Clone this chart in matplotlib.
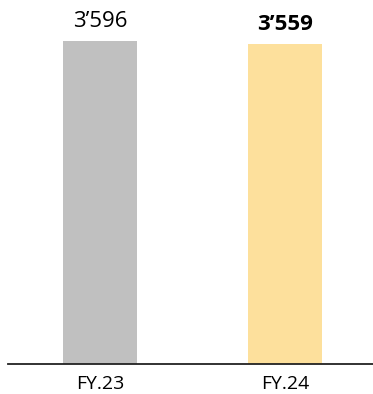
import matplotlib
matplotlib.use("Agg")
import matplotlib.pyplot as plt

plt.rcParams['font.family'] = ['Open Sans', 'Noto Sans', 'DejaVu Sans']

categories = ["FY.23", "FY.24"]
values = [3596, 3559]
labels = ["3\u2019596", "3\u2019559"]
colors = ["#c0c0c0", "#fde09c"]
weights = ["normal", "bold"]

fig = plt.figure(figsize=(3.73, 3.94), dpi=100)
ax = fig.add_axes([8 / 373, 30 / 394, 365 / 373, 364 / 394])

x = [0, 1]
ax.bar(x, values, width=0.4, color=colors)

for xi, v, lab, w in zip(x, values, labels, weights):
    ax.text(xi, v + 100, lab, ha='center', va='bottom', fontsize=16,
            fontweight=w, color='black')

ax.set_xlim(-0.497, 1.476)
ax.set_ylim(0, 4052)
ax.set_xticks(x)
ax.set_xticklabels(categories, fontsize=14)
ax.set_yticks([])
ax.tick_params(axis='x', length=0, pad=8)
for s in ['top', 'right', 'left']:
    ax.spines[s].set_visible(False)
ax.spines['bottom'].set_linewidth(1.3)
ax.spines['bottom'].set_color('#222222')

fig.savefig("out.png", dpi=100)
